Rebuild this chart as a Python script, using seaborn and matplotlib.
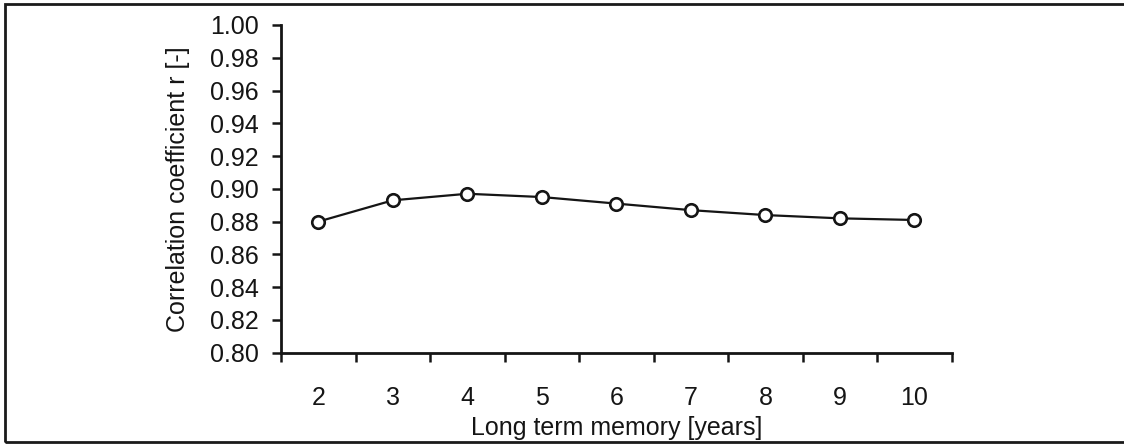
import matplotlib
matplotlib.use("Agg")
import matplotlib.pyplot as plt
import matplotlib.patches as mpatches
import seaborn as sns
import pandas as pd
import numpy as np

# Correlation coefficient as a function of long-term memory length
memory_years = [2, 3, 4, 5, 6, 7, 8, 9, 10]
correlation_r = [0.880, 0.893, 0.897, 0.895, 0.891, 0.887, 0.884, 0.882, 0.881]
y_ticks = [0.80, 0.82, 0.84, 0.86, 0.88, 0.90, 0.92, 0.94, 0.96, 0.98, 1.00]

sns.set_theme(style="white")
plt.rcParams["font.family"] = ["Liberation Sans", "DejaVu Sans"]

df = pd.DataFrame({"memory": memory_years, "r": correlation_r})

fig = plt.figure(figsize=(11.24, 4.45), dpi=100)
fig.patch.set_facecolor("white")
ax = fig.add_axes([281 / 1124, 1 - 352.7 / 445, (951.7 - 281) / 1124, (352.7 - 25) / 445])

sns.lineplot(data=df, x="memory", y="r", ax=ax, color="#151515", linewidth=1.6,
             marker="o", markersize=9, markerfacecolor="white",
             markeredgecolor="#151515", markeredgewidth=1.9)

ax.set_xlim(1.5, 10.5)
ax.set_ylim(0.80, 1.00)

# category boundaries carry the tick marks, centres carry the labels
ax.set_xticks(np.arange(1.5, 11.0, 1.0))
ax.set_xticklabels([])
ax.set_xticks(memory_years, minor=True)
ax.set_xticklabels([str(v) for v in memory_years], minor=True)
ax.tick_params(axis="x", which="major", direction="out", length=6.2, width=1.8,
               color="#151515", bottom=True)
ax.tick_params(axis="x", which="minor", length=0, pad=24, labelsize=18,
               labelcolor="#151515", bottom=True)

ax.set_yticks(y_ticks)
ax.set_yticklabels([f"{v:.2f}" for v in y_ticks])
ax.tick_params(axis="y", direction="out", length=6.2, width=1.8, color="#151515",
               left=True, pad=10, labelsize=18, labelcolor="#151515")

for side in ["top", "right"]:
    ax.spines[side].set_visible(False)
for side in ["left", "bottom"]:
    ax.spines[side].set_color("#151515")
    ax.spines[side].set_linewidth(2.0)

ax.set_xlabel("Long term memory [years]", fontsize=18, color="#151515", labelpad=4)
ax.set_ylabel("Correlation coefficient r [-]", fontsize=18, color="#151515", labelpad=14)
ax.grid(False)

# outer frame of the chart area
frame = mpatches.Rectangle((4.5 / 1124, 3 / 445), 1.2, 438.5 / 445,
                           transform=fig.transFigure, fill=False,
                           edgecolor="#1a1a1a", linewidth=2.0)
fig.add_artist(frame)

fig.savefig("out.png", dpi=100)
